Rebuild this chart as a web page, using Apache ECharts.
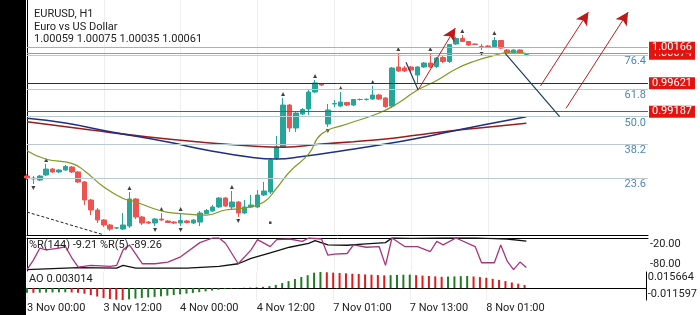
<!DOCTYPE html>
<html><head><meta charset="utf-8">
<script src="https://cdn.jsdelivr.net/npm/echarts@6/dist/echarts.min.js"></script>
<style>html,body{margin:0;padding:0;background:#fff}#c{width:700px;height:315px;background:linear-gradient(to right,#000 0,#000 26px,#fff 26px,#fff 100%)}</style>
</head><body><div id="c"></div>
<script>
const symbolName = 'EURUSD, H1';
const symbolDesc = 'Euro vs US Dollar';
const timeLabels = ['3 Nov 00:00','3 Nov 12:00','4 Nov 00:00','4 Nov 12:00','7 Nov 01:00','7 Nov 13:00','8 Nov 01:00'];
const timeLabelIdx = [0,12,24,36,48,60,72];
const slotCount = 98;
// [open, close, low, high]
const candles = [
[0.98204,0.98174,0.98143,0.98235],[0.98174,0.98159,0.98082,0.98204],[0.98143,0.98204,0.98128,0.98220],
[0.98220,0.98311,0.98204,0.98388],[0.98311,0.98266,0.98250,0.98327],[0.98266,0.98296,0.98250,0.98311],
[0.98296,0.98350,0.98281,0.98373],[0.98342,0.98266,0.98250,0.98357],[0.98266,0.98113,0.98097,0.98281],
[0.98113,0.97838,0.97761,0.98128],[0.97838,0.97685,0.97608,0.97853],[0.97685,0.97532,0.97486,0.97715],
[0.97532,0.97456,0.97425,0.97547],[0.97456,0.97394,0.97364,0.97471],[0.97410,0.97412,0.97394,0.97425],
[0.97394,0.97456,0.97379,0.97639],[0.97440,0.97853,0.97410,0.97960],[0.97853,0.97578,0.97547,0.97868],
[0.97578,0.97486,0.97456,0.97593],[0.97501,0.97486,0.97471,0.97517],[0.97486,0.97547,0.97440,0.97563],
[0.97547,0.97532,0.97517,0.97639],[0.97517,0.97494,0.97486,0.97532],[0.97501,0.97486,0.97471,0.97517],
[0.97486,0.97524,0.97440,0.97639],[0.97517,0.97494,0.97479,0.97532],[0.97486,0.97532,0.97471,0.97547],
[0.97501,0.97639,0.97440,0.97670],[0.97631,0.97677,0.97624,0.97700],[0.97670,0.97731,0.97654,0.97761],
[0.97731,0.97868,0.97715,0.97883],[0.97868,0.97746,0.97731,0.97883],[0.97731,0.97807,0.97685,0.97975],
[0.97807,0.97639,0.97578,0.97822],[0.97639,0.97731,0.97624,0.97838],[0.97731,0.97761,0.97715,0.97914],
[0.97731,0.97914,0.97715,0.97990],[0.97914,0.97975,0.97899,0.98113],[0.97960,0.98449,0.97929,0.98479],
[0.98479,0.98648,0.98449,0.98816],[0.98648,0.99289,0.98632,0.99396],[0.99289,0.98938,0.98877,0.99305],
[0.98938,0.99167,0.98877,0.99182],[0.99152,0.99221,0.99137,0.99244],[0.99228,0.99488,0.99137,0.99519],
[0.99488,0.99626,0.99473,0.99671],[0.99610,0.99595,0.99580,0.99626],[0.98999,0.99213,0.98953,0.99305],
[0.99305,0.99312,0.99259,0.99366],[0.99274,0.99335,0.99259,0.99488],[0.99328,0.99289,0.99274,0.99335],
[0.99289,0.99373,0.99274,0.99381],[0.99373,0.99374,0.99358,0.99389],[0.99373,0.99377,0.99358,0.99389],
[0.99381,0.99442,0.99366,0.99580],[0.99442,0.99381,0.99366,0.99458],[0.99396,0.99267,0.99244,0.99412],
[0.99274,0.99855,0.99244,0.99870],[0.99870,0.99809,0.99794,1.00084],[0.99855,0.99809,0.99794,0.99885],
[0.99870,0.99824,0.99794,0.99885],[0.99748,0.99870,0.99610,0.99885],[0.99870,0.99931,0.99855,0.99947],
[0.99931,0.99870,0.99855,1.00084],[0.99878,1.00008,0.99855,1.00023],[1.00015,0.99954,0.99931,1.00038],
[0.99954,1.00214,0.99931,1.00222],[1.00222,1.00306,1.00206,1.00329],[1.00306,1.00260,1.00252,1.00359],
[1.00260,1.00206,1.00191,1.00267],[1.00222,1.00214,1.00206,1.00229],[1.00183,1.00180,1.00130,1.00222],
[1.00191,1.00183,1.00176,1.00206],[1.00183,1.00275,1.00176,1.00329],[1.00275,1.00160,1.00145,1.00283],
[1.00130,1.00084,1.00069,1.00145],[1.00084,1.00130,1.00069,1.00138],[1.00130,1.00084,1.00069,1.00138],
[1.00059,1.00061,1.00035,1.00075]
];
const fractalUp = [3,16,21,24,32,40,45,49,54,58,63,68,73];
const fractalDown = [1,20,24,33,47,71];
const extraDots = [[38,0.97491]];
const maBlue = [[0,0.99086],[6,0.99014],[13,0.98881],[22,0.98724],[28,0.98602],[35,0.98490],[39,0.98464],[43,0.98502],[50,0.98602],[56,0.98693],[61,0.98781],[66,0.98881],[71,0.98981],[78,0.99111]];
const maRed = [[0,0.99034],[10,0.98907],[19,0.98800],[27,0.98724],[35,0.98663],[40,0.98643],[46,0.98693],[51,0.98729],[56,0.98770],[61,0.98831],[66,0.98892],[71,0.98943],[78,0.99010]];
const maGreen = [[0,0.98591],[3,0.98460],[7,0.98398],[9,0.98281],[12,0.98036],[15,0.97861],[17,0.97807],[21,0.97670],[24,0.97631],[28,0.97608],[31,0.97685],[34,0.97715],[37,0.97807],[39,0.98021],[41,0.98266],[44,0.98541],[46,0.98846],[50,0.98999],[55,0.99167],[58,0.99320],[61,0.99519],[64,0.99664],[67,0.99840],[70,0.99962],[73,1.00047],[76,1.00104],[78,1.00076]];
const fibLow = 0.97333, fibHigh = 1.00894;
const fibLevels = [23.6, 38.2, 50.0, 61.8, 76.4];
const priceLevels = [1.00074, 1.00166, 0.99621, 0.99187];
const priceLevelColors = ['#9a9a9a', '#e09a9a', '#5a1e1e', '#b83a3a'];
const wprSlow = [[0,-96],[8,-90],[14,-91],[15,-83],[17,-91],[25,-91],[30,-86],[33,-78],[35,-62],[38,-45],[41,-28],[44,-16],[45,-8],[47,-21],[50,-22],[53,-18],[56,-14],[57,0],[60,-1],[65,0],[70,0],[72,-1],[75,-3],[78,-9.21]];
const wprFast = [[0,-96],[1,-67],[2,-31],[3,-36],[5,-31],[6,-26],[7,-60],[8,-88],[10,-83],[13,-86],[14,-83],[15,-36],[16,-21],[18,-78],[20,-78],[22,-73],[24,-57],[27,-14],[29,0],[30,0],[31,-16],[33,-78],[35,-36],[36,-5],[38,-26],[39,-5],[41,-3],[43,-10],[44,0],[46,-3],[47,-52],[48,-49],[50,-47],[51,-21],[53,-28],[55,-26],[56,-83],[57,0],[59,-26],[61,-26],[63,-41],[64,-10],[65,-21],[67,0],[70,-26],[71,-75],[73,-75],[74,-21],[75,-70],[76,-96],[77,-73],[78,-89.26]];
const wprTicks = [-20, -80];
const aoValues = [
-0.0045,-0.0046,-0.0044,-0.0043,-0.0042,-0.0042,-0.0041,-0.0042,-0.0046,-0.0055,
-0.0068,-0.0082,-0.0096,-0.0106,-0.0113,-0.011597,-0.0110,-0.0102,-0.0096,-0.0091,
-0.0086,-0.0080,-0.0074,-0.0068,-0.0061,-0.0054,-0.0047,-0.0040,-0.0032,-0.0024,
-0.0016,-0.0010,-0.0006,-0.0004,0.0003,0.0005,0.0008,0.0012,0.0019,0.0031,
0.0049,0.0068,0.0088,0.0108,0.0125,0.0150,0.015664,0.0154,0.0150,0.0147,
0.0144,0.0140,0.0137,0.0133,0.0130,0.0127,0.0124,0.0126,0.0128,0.0130,
0.0131,0.0126,0.0122,0.0118,0.0114,0.0110,0.0112,0.0114,0.0116,0.0118,
0.0113,0.0107,0.0100,0.0090,0.0080,0.0068,0.0055,0.0043,0.003014];
const aoRange = [-0.011597, 0.015664];
const blueLines = [[[59.2,0.99942],[61.1,0.99519]],[[74.7,1.00079],[83.2,0.99111]]];
const redArrows = [[[61.1,0.99519],[66.9,1.00466]],[[80.2,0.99580],[87.7,1.00711]],[[84.2,0.99239],[93.9,1.00711]]];
const dashedLine = [[0,0.97654],[11.9,0.97308]];

const FONT = 'Roboto, sans-serif';
const cats = Array.from({length: slotCount}, (_, i) => String(i));
const last = candles[candles.length - 1];
const fmt5 = v => v.toFixed(5);

const chart = echarts.init(document.getElementById('c'), null, {renderer: 'canvas'});
const G = [
  {left: 27, right: 52, top: 0, height: 235},
  {left: 27, right: 52, top: 238, height: 33},
  {left: 27, right: 52, top: 272, height: 28}
];
const catAxis = (gi, extra) => Object.assign({type: 'category', gridIndex: gi, data: cats, boundaryGap: false,
  axisLine: {show: true, lineStyle: {color: '#000', width: 1}}, axisTick: {show: false}, axisLabel: {show: false},
  splitLine: {show: true, interval: (i) => timeLabelIdx.includes(i), lineStyle: {color: '#eeeeee'}}}, extra || {});
const valX = gi => ({type: 'value', gridIndex: gi, min: 0, max: slotCount - 1, show: false});

const priceMarks = priceLevels.map((p, k) => ({
  yAxis: p, lineStyle: {color: priceLevelColors[k], width: 1, type: 'solid'},
  label: {show: true, position: 'end', distance: 1, formatter: fmt5(p), color: '#fff', backgroundColor: '#e3140f',
    padding: [1, 3, 0, 3], fontSize: 11, fontFamily: FONT}
}));
const fibMarks = fibLevels.map(l => ({
  yAxis: fibLow + (fibHigh - fibLow) * l / 100, lineStyle: {color: '#b9cbd0', width: 1, type: 'solid'},
  label: {show: true, position: 'insideEndBottom', distance: [2, 1], formatter: l.toFixed(1), color: '#4f86b5', fontSize: 11, fontFamily: FONT}
}));

const option = {
  animation: false,
  backgroundColor: 'transparent',
  textStyle: {fontFamily: FONT},
  grid: G,
  title: {text: symbolName + '\n' + symbolDesc + '\n' + [last[0], last[3], last[2], last[1]].map(fmt5).join(' '),
    left: 29, top: 3, textStyle: {fontSize: 11, fontWeight: 'normal', color: '#222', lineHeight: 12.5, fontFamily: FONT}},
  xAxis: [
    catAxis(0), valX(0),
    valX(1),
    catAxis(2, {axisLabel: {show: true, interval: 0, align: 'left', margin: 3, fontSize: 11, color: '#222', fontFamily: FONT,
      formatter: (v, i) => { const k = timeLabelIdx.indexOf(i); return k >= 0 ? timeLabels[k] : ''; }}}),
    catAxis(1)
  ],
  yAxis: [
    {type: 'value', gridIndex: 0, position: 'right', min: 0.97303, max: 1.00894, axisLine: {show: true, lineStyle: {color: '#000'}},
      axisTick: {show: false}, axisLabel: {show: false}, splitLine: {show: false}},
    {type: 'value', gridIndex: 1, position: 'right', min: -100, max: 0, interval: 20, axisLine: {show: true, lineStyle: {color: '#000'}},
      axisTick: {show: false}, splitLine: {show: false},
      axisLabel: {show: true, margin: 2, fontSize: 11, color: '#222', fontFamily: FONT,
        formatter: v => wprTicks.includes(Math.round(v)) ? v.toFixed(2) : ''}},
    {type: 'value', gridIndex: 2, position: 'right', min: aoRange[0], max: aoRange[1], axisLine: {show: true, lineStyle: {color: '#000'}},
      axisTick: {show: false}, splitLine: {show: false},
      axisLabel: {show: true, margin: 2, fontSize: 11, color: '#222', fontFamily: FONT, showMinLabel: true, showMaxLabel: true,
        verticalAlignMinLabel: 'bottom', verticalAlignMaxLabel: 'top',
        formatter: v => (Math.abs(v - aoRange[0]) < 1e-9 || Math.abs(v - aoRange[1]) < 1e-9) ? v.toFixed(6) : ''}}
  ],
  graphic: {elements: [
    {type: 'text', x: 29, y: 240, style: {text: '%R(144) ' + wprSlow[wprSlow.length - 1][1].toFixed(2) + ' %R(5) ' + wprFast[wprFast.length - 1][1].toFixed(2),
      fill: '#222', font: '11px ' + FONT}, z: 100},
    {type: 'text', x: 29, y: 274, style: {text: 'AO ' + aoValues[aoValues.length - 1].toFixed(6), fill: '#222', font: '11px ' + FONT}, z: 100}
  ]},
  series: [
    {type: 'line', xAxisIndex: 1, yAxisIndex: 0, data: [], markLine: {silent: true, symbol: 'none', animation: false, precision: 6, data: fibMarks.concat(priceMarks)}},
    {type: 'candlestick', xAxisIndex: 0, yAxisIndex: 0, data: candles, barWidth: 5, clip: true,
      itemStyle: {color: '#26a69a', color0: '#ef5350', borderColor: '#26a69a', borderColor0: '#ef5350', borderWidth: 1}},
    {type: 'line', xAxisIndex: 1, yAxisIndex: 0, data: maRed, smooth: true, symbol: 'none', lineStyle: {color: '#9b1c1c', width: 1.6}},
    {type: 'line', xAxisIndex: 1, yAxisIndex: 0, data: maBlue, smooth: true, symbol: 'none', lineStyle: {color: '#1f2f86', width: 1.6}},
    {type: 'line', xAxisIndex: 1, yAxisIndex: 0, data: maGreen, smooth: true, symbol: 'none', lineStyle: {color: '#7d9a22', width: 1.2}},
    {type: 'scatter', xAxisIndex: 0, yAxisIndex: 0, data: fractalUp.map(i => [i, candles[i][3]]), symbol: 'triangle', symbolSize: [4, 4], symbolOffset: [0, -4], itemStyle: {color: '#111'}},
    {type: 'scatter', xAxisIndex: 0, yAxisIndex: 0, data: fractalDown.map(i => [i, candles[i][2]]), symbol: 'triangle', symbolRotate: 180, symbolSize: [4, 4], symbolOffset: [0, 4], itemStyle: {color: '#111'}},
    {type: 'scatter', xAxisIndex: 1, yAxisIndex: 0, data: extraDots, symbol: 'rect', symbolSize: 2.5, itemStyle: {color: '#111'}},
    {type: 'line', xAxisIndex: 1, yAxisIndex: 0, data: [], markLine: {silent: true, animation: false, symbol: 'none', precision: 6,
      data: blueLines.map(l => [{coord: l[0]}, {coord: l[1]}]), lineStyle: {color: '#1e3c5a', width: 1.2, type: 'solid'}, label: {show: false}}},
    {type: 'line', xAxisIndex: 1, yAxisIndex: 0, data: [], markLine: {silent: true, animation: false, symbol: ['none', 'arrow'], symbolSize: [10, 13], precision: 6,
      data: redArrows.map(l => [{coord: l[0]}, {coord: l[1]}]), lineStyle: {color: '#c0191a', width: 1, type: 'solid'}, label: {show: false}}},
    {type: 'line', xAxisIndex: 1, yAxisIndex: 0, data: dashedLine, symbol: 'none', lineStyle: {color: '#222', width: 1, type: [3, 2]}},
    {type: 'line', xAxisIndex: 2, yAxisIndex: 1, data: wprSlow, symbol: 'none', lineStyle: {color: '#111', width: 1.3}},
    {type: 'line', xAxisIndex: 2, yAxisIndex: 1, data: wprFast, symbol: 'none', lineStyle: {color: '#a8347e', width: 1.3}},
    {type: 'bar', xAxisIndex: 3, yAxisIndex: 2, barWidth: 2,
      data: aoValues.map((v, i) => ({value: v, itemStyle: {color: (i > 0 && v < aoValues[i - 1]) ? '#e0191b' : '#1e7d23'}}))}
  ]
};
chart.setOption(option);
</script></body></html>
